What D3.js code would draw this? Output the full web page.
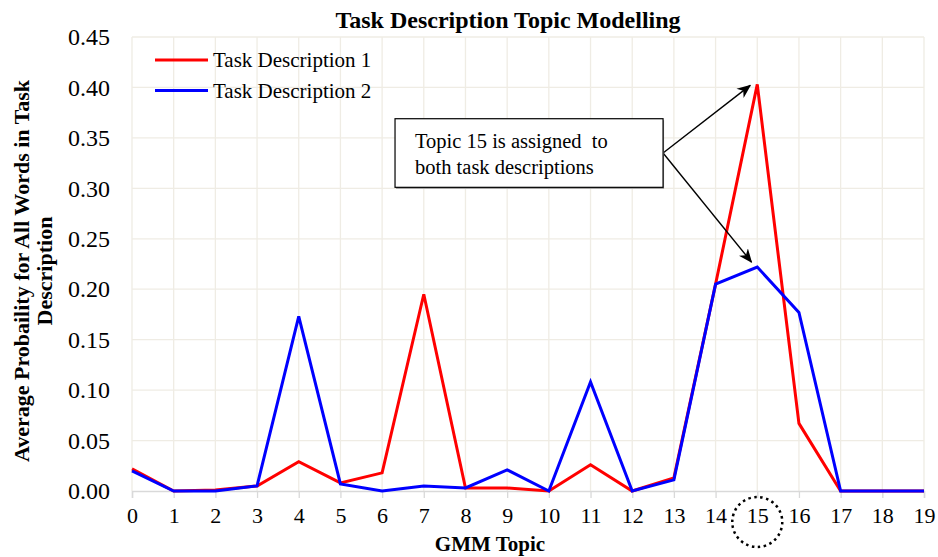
<!DOCTYPE html>
<html>
<head>
<meta charset="utf-8">
<script src="https://cdn.jsdelivr.net/npm/d3@7"></script>
<style>
    body { margin: 0; background: #fff; }
    text { font-family: "Liberation Serif", "Times New Roman", serif; fill: #000; }
</style>
</head>
<body>
<div id="chart-container"></div>
<script>
// topics on the x axis
const topics = d3.range(0, 20);
const yTicks = [0, 0.05, 0.10, 0.15, 0.20, 0.25, 0.30, 0.35, 0.40, 0.45];

// average probability per topic
const taskDesc1 = [0.022, 0.000, 0.001, 0.005, 0.029, 0.008, 0.018, 0.195, 0.003, 0.003,
    0.000, 0.026, 0.000, 0.013, 0.205, 0.403, 0.067, 0.000, 0.000, 0.000];
const taskDesc2 = [0.020, 0.000, 0.000, 0.005, 0.173, 0.007, 0.000, 0.005, 0.003, 0.021,
    0.000, 0.108, 0.000, 0.011, 0.205, 0.222, 0.177, 0.000, 0.000, 0.000];

const seriesNames = ['Task Description 1', 'Task Description 2'];
const seriesColors = ['#ff0000', '#0000ff'];

const svgWidth = 938, svgHeight = 557;
const margin = {top: 37, right: 14, bottom: 66, left: 132};
const width = svgWidth - margin.left - margin.right;
const height = svgHeight - margin.top - margin.bottom;
const serif = '"Liberation Serif", "Times New Roman", serif';

const svg = d3.select('#chart-container').append('svg')
    .attr('width', svgWidth)
    .attr('height', svgHeight)
    .attr('font-family', serif);

const defs = svg.append('defs');
defs.append('marker')
    .attr('id', 'stealth')
    .attr('viewBox', '0 0 12 10')
    .attr('refX', 11)
    .attr('refY', 5)
    .attr('markerWidth', 14)
    .attr('markerHeight', 12)
    .attr('markerUnits', 'userSpaceOnUse')
    .attr('orient', 'auto')
    .append('path')
    .attr('d', 'M0,0 L12,5 L0,10 L3.5,5 Z')
    .style('fill', '#000');

const xScale = d3.scaleLinear().domain([0, 19]).range([0, width]);
const yScale = d3.scaleLinear().domain([0, 0.45]).range([height, 0]);

const g = svg.append('g').attr('transform', `translate(${margin.left},${margin.top})`);

// grid
g.append('g').selectAll('line')
    .data(topics)
    .enter().append('line')
    .attr('x1', d => xScale(d)).attr('x2', d => xScale(d))
    .attr('y1', 0).attr('y2', height)
    .style('stroke', '#efece4').style('stroke-width', 1.3);

g.append('g').selectAll('line')
    .data(yTicks.slice(1))
    .enter().append('line')
    .attr('x1', 0).attr('x2', width)
    .attr('y1', d => yScale(d)).attr('y2', d => yScale(d))
    .style('stroke', '#efece4').style('stroke-width', 1.3);

// x axis
const xAxis = d3.axisBottom(xScale).tickValues(topics).tickSize(7).tickPadding(9).tickFormat(d3.format('d'));
const xg = g.append('g').attr('transform', `translate(0,${height})`).call(xAxis)
    .attr('font-family', serif);
xg.select('.domain').style('stroke', '#d9d9d9').style('stroke-width', 1.5);
xg.selectAll('.tick line').style('stroke', '#d9d9d9').style('stroke-width', 1.3);
xg.selectAll('.tick text')
    .style('font-family', serif)
    .style('font-size', '22px')
    .style('fill', '#000');

// y axis labels
const yAxis = d3.axisLeft(yScale).tickValues(yTicks).tickSize(0).tickPadding(22).tickFormat(d3.format('.2f'));
const yg = g.append('g').call(yAxis).attr('font-family', serif);
yg.select('.domain').remove();
yg.selectAll('.tick text')
    .style('font-family', serif)
    .style('font-size', '24px')
    .style('fill', '#000');

// lines
const line = d3.line().x((d, i) => xScale(topics[i])).y(d => yScale(d));
[taskDesc1, taskDesc2].forEach((series, k) => {
    g.append('path')
        .datum(series)
        .attr('d', line)
        .style('fill', 'none')
        .style('stroke', seriesColors[k])
        .style('stroke-width', 3)
        .style('stroke-linejoin', 'miter');
});

// legend
const legend = svg.append('g').attr('transform', 'translate(155,60)');
seriesNames.forEach((name, i) => {
    legend.append('line')
        .attr('x1', 0).attr('x2', 53)
        .attr('y1', i * 30.5).attr('y2', i * 30.5)
        .style('stroke', seriesColors[i]).style('stroke-width', 3);
    legend.append('text')
        .attr('x', 58).attr('y', i * 30.5 + 7)
        .style('font-size', '21px')
        .text(name);
});

// annotation box + arrows
const boxX0 = xScale(6.31), boxX1 = xScale(12.74);
const boxY0 = yScale(0.369), boxY1 = yScale(0.301);
const ann = g.append('g');
const startX = boxX1, startY = (boxY0 + boxY1) / 2;
[[14.83, 0.402], [14.86, 0.227]].forEach(([tx, ty]) => {
    ann.append('line')
        .attr('x1', startX).attr('y1', startY)
        .attr('x2', xScale(tx)).attr('y2', yScale(ty))
        .style('stroke', '#000').style('stroke-width', 1.4)
        .attr('marker-end', 'url(#stealth)');
});
ann.append('rect')
    .attr('x', boxX0 + 1).attr('y', boxY0 + 1.5)
    .attr('width', boxX1 - boxX0).attr('height', boxY1 - boxY0)
    .style('fill', '#999');
ann.append('rect')
    .attr('x', boxX0).attr('y', boxY0)
    .attr('width', boxX1 - boxX0).attr('height', boxY1 - boxY0)
    .style('fill', '#fff').style('stroke', '#000').style('stroke-width', 1.2);
ann.append('text')
    .attr('x', boxX0 + 20).attr('y', boxY0 + 29)
    .attr('xml:space', 'preserve')
    .style('white-space', 'pre')
    .style('font-size', '20.5px')
    .text('Topic 15 is assigned  to');
ann.append('text')
    .attr('x', boxX0 + 20).attr('y', boxY0 + 55)
    .style('font-size', '20.5px')
    .text('both task descriptions');

// dotted circle round topic 15
g.append('circle')
    .attr('cx', xScale(15)).attr('cy', height + 31)
    .attr('r', 25)
    .style('fill', 'none').style('stroke', '#000')
    .style('stroke-width', 2.5).style('stroke-dasharray', '2.5,3.5');

// titles
svg.append('text')
    .attr('x', 508).attr('y', 28)
    .attr('text-anchor', 'middle')
    .style('font-size', '24px').style('font-weight', 'bold')
    .text('Task Description Topic Modelling');

svg.append('text')
    .attr('x', 490).attr('y', 551)
    .attr('text-anchor', 'middle')
    .style('font-size', '21px').style('font-weight', 'bold')
    .text('GMM Topic');

const yTitle = svg.append('text')
    .attr('transform', 'translate(29,271) rotate(-90)')
    .attr('text-anchor', 'middle')
    .style('font-size', '22px').style('font-weight', 'bold');
yTitle.append('tspan').attr('x', 0).attr('y', 0).text('Average Probaility for All Words in Task');
yTitle.append('tspan').attr('x', 0).attr('y', 23).text('Description');
</script>
</body>
</html>
